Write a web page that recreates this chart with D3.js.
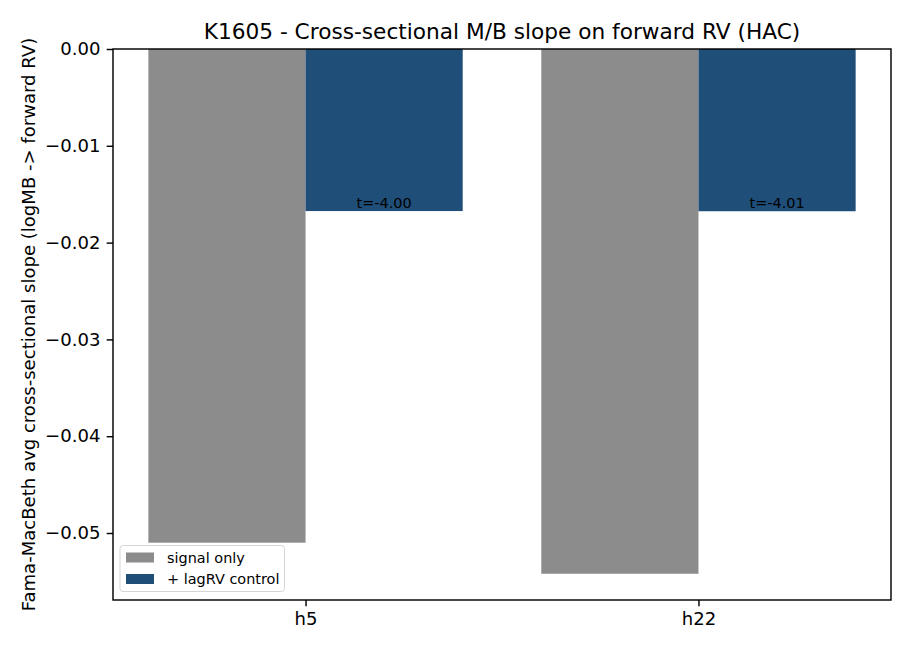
<!DOCTYPE html>
<html>
<head>
<meta charset="utf-8">
<script src="https://cdn.jsdelivr.net/npm/d3@7"></script>
<style>
body { margin: 0; background: #fff; }
text { font-family: "DejaVu Sans", sans-serif; }
</style>
</head>
<body>
<script>
var horizons = ["h5", "h22"];
var seriesNames = ["signal only", "+ lagRV control"];
var signalOnly = [-0.05100, -0.05421];
var withControl = [-0.01674, -0.01676];
var tStats = ["t=-4.00", "t=-4.01"];
var yTicks = [0.00, -0.01, -0.02, -0.03, -0.04, -0.05];
var colors = ["#8c8c8c", "#1f4e79"];

var W = 910, H = 650;
var m = {left: 113, right: 19, top: 49, bottom: 50};
var pt = 130 / 72;

var svg = d3.select("body").append("svg")
  .attr("width", W)
  .attr("height", H);

var x = d3.scaleLinear().domain([-0.49, 1.49]).range([m.left, W - m.right]);
var ymin = d3.min(signalOnly.concat(withControl));
var y = d3.scaleLinear().domain([ymin * 1.05, 0]).range([H - m.bottom, m.top]);

var barW = 0.4;
var bars = [];
horizons.forEach(function(h, i) {
  bars.push({i: i, s: 0, v: signalOnly[i], off: -barW / 2});
  bars.push({i: i, s: 1, v: withControl[i], off: barW / 2, t: tStats[i]});
});

svg.append("g").selectAll("rect")
  .data(bars)
  .enter().append("rect")
  .attr("x", function(d) { return x(d.i + d.off - barW / 2); })
  .attr("width", function(d) { return x(barW) - x(0); })
  .attr("y", y(0))
  .attr("height", function(d) { return y(d.v) - y(0); })
  .attr("fill", function(d) { return colors[d.s]; });

svg.append("g").selectAll("text")
  .data(bars.filter(function(d) { return d.t; }))
  .enter().append("text")
  .attr("x", function(d) { return x(d.i + d.off); })
  .attr("y", function(d) { return y(d.v) - 3; })
  .attr("text-anchor", "middle")
  .attr("font-size", (8 * pt) + "px")
  .attr("fill", "#000")
  .text(function(d) { return d.t; });

// axes
var yAxis = d3.axisLeft(y).tickValues(yTicks).tickSize(3.5 * pt).tickPadding(3.5 * pt)
  .tickFormat(function(d) { return d3.format(".2f")(d).replace("-", "\u2212"); });
var gy = svg.append("g").attr("transform", "translate(" + m.left + ",0)").call(yAxis);
gy.select(".domain").remove();
gy.selectAll("line").attr("stroke-width", 0.8 * pt);
gy.selectAll("text").attr("font-size", (10 * pt) + "px").attr("fill", "#000");

var xAxis = d3.axisBottom(x).tickValues([0, 1]).tickSize(3.5 * pt).tickPadding(3.5 * pt)
  .tickFormat(function(d) { return horizons[d]; });
var gx = svg.append("g").attr("transform", "translate(0," + (H - m.bottom) + ")").call(xAxis);
gx.select(".domain").remove();
gx.selectAll("line").attr("stroke-width", 0.8 * pt);
gx.selectAll("text").attr("font-size", (10 * pt) + "px").attr("fill", "#000");

svg.append("rect")
  .attr("x", m.left).attr("y", m.top)
  .attr("width", W - m.left - m.right)
  .attr("height", H - m.top - m.bottom)
  .attr("fill", "none").attr("stroke", "#000").attr("stroke-width", 0.8 * pt);

svg.append("text")
  .attr("x", (m.left + W - m.right) / 2)
  .attr("y", 39)
  .attr("text-anchor", "middle")
  .attr("font-size", (12 * pt) + "px")
  .text("K1605 - Cross-sectional M/B slope on forward RV (HAC)");

svg.append("text")
  .attr("transform", "translate(28," + ((m.top + H - m.bottom) / 2) + ") rotate(-90)")
  .attr("text-anchor", "middle")
  .attr("dominant-baseline", "central")
  .attr("font-size", (10 * pt) + "px")
  .text("Fama-MacBeth avg cross-sectional slope (logMB -> forward RV)");

// legend
var lg = svg.append("g").attr("transform", "translate(120,545.5)");
lg.append("rect").attr("width", 164.5).attr("height", 46).attr("rx", 3)
  .attr("fill", "#fff").attr("fill-opacity", 0.8)
  .attr("stroke", "#d5d5d5").attr("stroke-width", 1);
seriesNames.forEach(function(n, i) {
  lg.append("rect").attr("x", 6).attr("y", 7 + i * 21.5)
    .attr("width", 28).attr("height", 10).attr("fill", colors[i]);
  lg.append("text").attr("x", 47).attr("y", 17 + i * 21.5)
    .attr("font-size", (8 * pt) + "px").text(n);
});
</script>
</body>
</html>
